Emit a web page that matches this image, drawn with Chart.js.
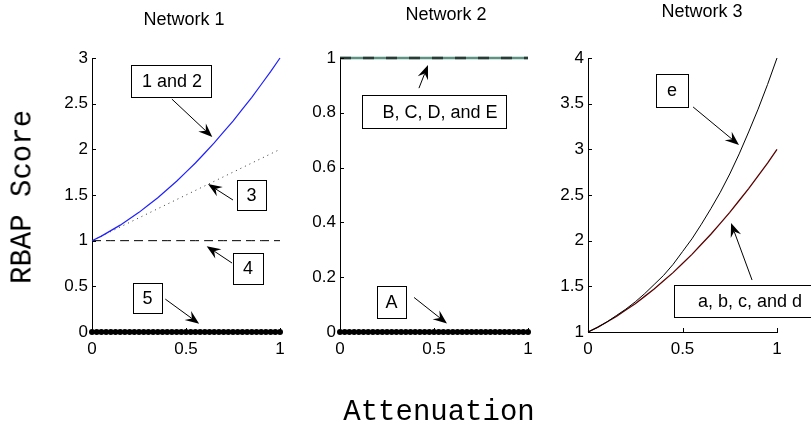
<!DOCTYPE html>
<html>
<head>
<meta charset="utf-8">
<script src="https://cdn.jsdelivr.net/npm/chart.js@4.4.1/dist/chart.umd.min.js"></script>
<style>
    body { margin: 0; background: #fff; }
    #wrap { position: relative; width: 811px; height: 429px; overflow: hidden; }
    #wrap canvas { position: absolute; left: 0; top: 0; }
    .txt { position: absolute; transform: translate(-50%, -50%); white-space: nowrap; line-height: 1; color: #000; }
    .title { font: 18px "Liberation Sans", Arial, sans-serif; }
    .axis { font: 29px "Liberation Mono", "Courier New", monospace; }
</style>
</head>
<body>
<div id="wrap">
    <canvas id="net1" width="811" height="429"></canvas>
    <canvas id="net2" width="811" height="429"></canvas>
    <canvas id="net3" width="811" height="429"></canvas>
    <div class="txt title" style="left:184px;top:19px">Network 1</div>
    <div class="txt title" style="left:446px;top:14px">Network 2</div>
    <div class="txt title" style="left:702px;top:11px">Network 3</div>
    <div class="txt axis" style="left:439px;top:412px">Attenuation</div>
    <div class="txt axis" style="left:23px;top:197px;transform:translate(-50%,-50%) rotate(-90deg)">RBAP Score</div>
</div>
<script>
// valeurs
const attenuation = [0, 0.05, 0.1, 0.15, 0.2, 0.25, 0.3, 0.35, 0.4, 0.45, 0.5,
    0.55, 0.6, 0.65, 0.7, 0.75, 0.8, 0.85, 0.9, 0.95, 1];
const dotsX = [0, 0.025, 0.05, 0.075, 0.1, 0.125, 0.15, 0.175, 0.2, 0.225, 0.25,
    0.275, 0.3, 0.325, 0.35, 0.375, 0.4, 0.425, 0.45, 0.475, 0.5,
    0.525, 0.55, 0.575, 0.6, 0.625, 0.65, 0.675, 0.7, 0.725, 0.75,
    0.775, 0.8, 0.825, 0.85, 0.875, 0.9, 0.925, 0.95, 0.975, 1];

const net1Nodes12 = [1.00, 1.05, 1.11, 1.17, 1.24, 1.31, 1.39, 1.47, 1.56, 1.65, 1.75,
    1.85, 1.96, 2.07, 2.19, 2.31, 2.44, 2.57, 2.71, 2.85, 3.00];
const net1Node3 = [1.00, 1.05, 1.10, 1.15, 1.20, 1.25, 1.30, 1.35, 1.40, 1.45, 1.50,
    1.55, 1.60, 1.65, 1.70, 1.75, 1.80, 1.85, 1.90, 1.95, 2.00];
const net1Node4 = [1, 1, 1, 1, 1, 1, 1, 1, 1, 1, 1, 1, 1, 1, 1, 1, 1, 1, 1, 1, 1];
const net1Node5 = [0, 0, 0, 0, 0, 0, 0, 0, 0, 0, 0, 0, 0, 0, 0, 0, 0, 0, 0, 0, 0,
    0, 0, 0, 0, 0, 0, 0, 0, 0, 0, 0, 0, 0, 0, 0, 0, 0, 0, 0, 0];

const net2BCDE = [1, 1, 1, 1, 1, 1, 1, 1, 1, 1, 1, 1, 1, 1, 1, 1, 1, 1, 1, 1, 1];
const net2A = [0, 0, 0, 0, 0, 0, 0, 0, 0, 0, 0, 0, 0, 0, 0, 0, 0, 0, 0, 0, 0,
    0, 0, 0, 0, 0, 0, 0, 0, 0, 0, 0, 0, 0, 0, 0, 0, 0, 0, 0, 0];

const net3e = [1.00, 1.05, 1.11, 1.18, 1.25, 1.33, 1.42, 1.52, 1.62, 1.74, 1.88,
    2.02, 2.18, 2.35, 2.53, 2.73, 2.95, 3.19, 3.44, 3.71, 4.00];
const net3abcd = [1.00, 1.05, 1.11, 1.17, 1.24, 1.31, 1.39, 1.47, 1.56, 1.65, 1.75,
    1.85, 1.96, 2.07, 2.19, 2.31, 2.44, 2.57, 2.71, 2.85, 3.00];

const xTicks = [0, 0.5, 1];
const yTicks1 = [0, 0.5, 1, 1.5, 2, 2.5, 3];
const yTicks2 = [0, 0.2, 0.4, 0.6, 0.8, 1];
const yTicks3 = [1, 1.5, 2, 2.5, 3, 3.5, 4];

const tickFont = { family: '"Liberation Sans", Arial, sans-serif', size: 17 };
const noteFont = '18px "Liberation Sans", Arial, sans-serif';

function pts(xs, ys) {
    return xs.map((x, i) => ({ x: x, y: ys[i] }));
}

function arrow(ctx, x1, y1, x2, y2) {
    const a = Math.atan2(y2 - y1, x2 - x1);
    const L = 14, W = 5.5, N = 9;
    ctx.beginPath();
    ctx.moveTo(x1, y1);
    ctx.lineTo(x2 - N * Math.cos(a), y2 - N * Math.sin(a));
    ctx.stroke();
    ctx.save();
    ctx.translate(x2, y2);
    ctx.rotate(a);
    ctx.beginPath();
    ctx.moveTo(0, 0);
    ctx.lineTo(-L, -W);
    ctx.lineTo(-N, 0);
    ctx.lineTo(-L, W);
    ctx.closePath();
    ctx.fill();
    ctx.restore();
}

// petits traits vers l'intérieur + boîtes de texte avec flèches
const notesPlugin = {
    id: 'notes',
    afterDraw(chart, args, opts) {
        const ctx = chart.ctx;
        const xs = chart.scales.x, ys = chart.scales.y;
        const area = chart.chartArea;
        ctx.save();
        ctx.strokeStyle = '#000';
        ctx.fillStyle = '#000';
        ctx.lineWidth = 1;
        ctx.beginPath();
        xs.ticks.forEach(t => {
            const px = Math.round(xs.getPixelForValue(t.value)) + 0.5;
            ctx.moveTo(px, area.bottom);
            ctx.lineTo(px, area.bottom - 4);
        });
        ys.ticks.forEach(t => {
            const py = Math.round(ys.getPixelForValue(t.value)) + 0.5;
            ctx.moveTo(area.left, py);
            ctx.lineTo(area.left + 4, py);
        });
        ctx.stroke();

        (opts.items || []).forEach(n => {
            const cx = xs.getPixelForValue(n.at[0]);
            const cy = ys.getPixelForValue(n.at[1]);
            const x0 = Math.round(cx - n.w / 2) + 0.5;
            const y0 = Math.round(cy - n.h / 2) + 0.5;
            ctx.fillStyle = '#fff';
            ctx.fillRect(x0, y0, n.w, n.h);
            ctx.strokeStyle = '#000';
            ctx.strokeRect(x0, y0, n.w, n.h);
            ctx.fillStyle = '#000';
            ctx.font = noteFont;
            ctx.textAlign = 'center';
            ctx.textBaseline = 'middle';
            ctx.fillText(n.text, cx + (n.dx || 0), cy + 1);
            arrow(ctx,
                xs.getPixelForValue(n.from[0]), ys.getPixelForValue(n.from[1]),
                xs.getPixelForValue(n.to[0]), ys.getPixelForValue(n.to[1]));
        });
        ctx.restore();
    }
};

function makePanel(id, box, yMin, yMax, yTicks, datasets, notes) {
    new Chart(document.getElementById(id), {
        type: 'scatter',
        data: { datasets: datasets },
        options: {
            responsive: false,
            animation: false,
            events: [],
            layout: {
                padding: { left: box.left - 40, top: box.top, right: 811 - box.right, bottom: 429 - box.bottom - 30 }
            },
            elements: { point: { radius: 0 }, line: { tension: 0 } },
            plugins: { legend: { display: false }, tooltip: { enabled: false }, notes: { items: notes } },
            scales: {
                x: {
                    type: 'linear', min: 0, max: 1,
                    afterBuildTicks: s => { s.ticks = xTicks.map(v => ({ value: v })); },
                    afterFit: s => { s.height = 30; s.paddingLeft = 0; s.paddingRight = 0; },
                    grid: { display: false, drawTicks: false },
                    border: { display: true, color: '#000', width: 1 },
                    ticks: { color: '#000', font: tickFont, padding: 7, maxRotation: 0, autoSkip: false, callback: v => String(v) }
                },
                y: {
                    type: 'linear', min: yMin, max: yMax,
                    afterBuildTicks: s => { s.ticks = yTicks.map(v => ({ value: v })); },
                    afterFit: s => { s.width = 40; s.paddingTop = 0; s.paddingBottom = 0; },
                    grid: { display: false, drawTicks: false },
                    border: { display: true, color: '#000', width: 1 },
                    ticks: { color: '#000', font: tickFont, padding: 4, autoSkip: false, callback: v => String(v) }
                }
            }
        },
        plugins: [notesPlugin]
    });
}

const dots = ys => ({
    data: pts(dotsX, ys), showLine: false, clip: false,
    pointRadius: 3, pointBackgroundColor: '#000', pointBorderWidth: 0
});

makePanel('net1', { left: 92, top: 58, right: 280, bottom: 332 }, 0, 3, yTicks1, [
    { data: pts(attenuation, net1Nodes12), showLine: true, borderColor: '#1f1fff', borderWidth: 1.2, clip: false },
    { data: pts(attenuation, net1Node3), showLine: true, borderColor: '#333', borderWidth: 1, borderDash: [1, 4] },
    { data: pts(attenuation, net1Node4), showLine: true, borderColor: '#000', borderWidth: 1, borderDash: [9, 5] },
    dots(net1Node5)
], [
    { text: '1 and 2', at: [0.42, 2.75], w: 80, h: 32, dx: 1, from: [0.425, 2.55], to: [0.64, 2.135] },
    { text: '3', at: [0.848, 1.50], w: 29, h: 30, from: [0.75, 1.445], to: [0.617, 1.62] },
    { text: '4', at: [0.83, 0.695], w: 30, h: 31, from: [0.745, 0.755], to: [0.61, 0.94] },
    { text: '5', at: [0.295, 0.372], w: 29, h: 30, from: [0.39, 0.36], to: [0.57, 0.09] }
]);

makePanel('net2', { left: 340, top: 58, right: 528, bottom: 332 }, 0, 1, yTicks2, [
    { data: pts(attenuation, net2BCDE), showLine: true, borderColor: '#2a3a37', borderWidth: 2.5, borderDash: [11, 12], clip: false },
    { data: pts(attenuation, net2BCDE), showLine: true, borderColor: '#5e9383', borderWidth: 2.5, clip: false },
    dots(net2A)
], [
    { text: 'B, C, D, and E', at: [0.5, 0.804], w: 144, h: 33, dx: 6, from: [0.42, 0.89], to: [0.468, 0.974] },
    { text: 'A', at: [0.274, 0.111], w: 29, h: 32, from: [0.394, 0.126], to: [0.569, 0.031] }
]);

makePanel('net3', { left: 588, top: 58, right: 777, bottom: 332 }, 1, 4, yTicks3, [
    { data: pts(attenuation, net3e), showLine: true, borderColor: '#000', borderWidth: 1, clip: false },
    { data: pts(attenuation, net3abcd), showLine: true, borderColor: '#5a0000', borderWidth: 1.3, clip: false }
], [
    { text: 'e', at: [0.444, 3.644], w: 32, h: 33, from: [0.556, 3.464], to: [0.799, 3.048] },
    { text: 'a, b, c, and d', at: [0.82, 1.339], w: 138, h: 32, dx: 7, from: [0.868, 1.569], to: [0.757, 2.193] }
]);
</script>
</body>
</html>
